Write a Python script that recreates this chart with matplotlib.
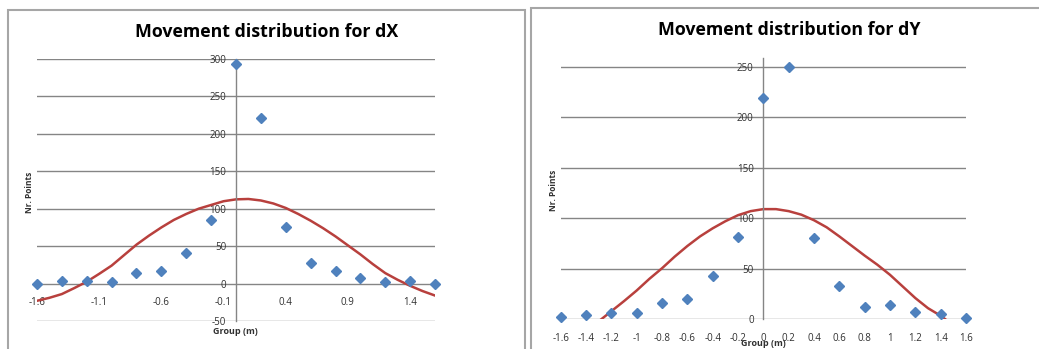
import matplotlib
matplotlib.use("Agg")
import matplotlib.pyplot as plt
from matplotlib.patches import Rectangle

plt.rcParams['font.family'] = ['Open Sans', 'DejaVu Sans']

# measured groups (m)
groups = [-1.6, -1.4, -1.2, -1.0, -0.8, -0.6, -0.4, -0.2, 0.0,
          0.2, 0.4, 0.6, 0.8, 1.0, 1.2, 1.4, 1.6]
dx_points = [0, 4, 4, 1.5, 13.5, 17, 41, 85, 293, 221, 75, 27, 17, 7, 2, 4, 0]
dy_points = [2, 4.5, 6, 6, 16, 20.5, 42.5, 81.5, 219, 250, 80.5, 32.5, 12, 14.5, 7, 5, 1]

# red fitted curves, every 0.1 m
curve_x = [-1.6, -1.5, -1.4, -1.3, -1.2, -1.1, -1.0, -0.9, -0.8, -0.7, -0.6,
           -0.5, -0.4, -0.3, -0.2, -0.1, 0.0, 0.1, 0.2, 0.3, 0.4, 0.5, 0.6,
           0.7, 0.8, 0.9, 1.0, 1.1, 1.2, 1.3, 1.4, 1.5, 1.6]
dx_curve = [-23, -19, -14, -6, 2.5, 13, 24, 38, 52, 64, 75, 85, 93, 100, 105,
            110, 112.5, 113, 111, 107, 101, 93, 84, 74, 63, 51, 39, 26, 14, 5,
            -3, -10, -16]
dy_curve = [-22, -17, -11, -2, 8, 18, 28.5, 40, 50.5, 62, 72.5, 82, 90, 97,
            103, 107, 109, 109, 107, 103.5, 98, 91, 82, 72.5, 63, 54, 44, 32.5,
            21, 11, 3.5, -6, -14]

dx_xticks = [-1.6, -1.1, -0.6, -0.1, 0.4, 0.9, 1.4]
dx_xlabels = ["-1.6", "-1.1", "-0.6", "-0.1", "0.4", "0.9", "1.4"]
dx_yticks = [-50, 0, 50, 100, 150, 200, 250, 300]

dy_xticks = [-1.6, -1.4, -1.2, -1.0, -0.8, -0.6, -0.4, -0.2, 0.0,
             0.2, 0.4, 0.6, 0.8, 1.0, 1.2, 1.4, 1.6]
dy_xlabels = ["-1.6", "-1.4", "-1.2", "-1", "-0.8", "-0.6", "-0.4", "-0.2", "0",
              "0.2", "0.4", "0.6", "0.8", "1", "1.2", "1.4", "1.6"]
dy_yticks = [0, 50, 100, 150, 200, 250]

W, H = 1039, 349
fig = plt.figure(figsize=(W / 100, H / 100), dpi=100)

# chart frames (Excel chart boxes)
fig.add_artist(Rectangle((8 / W, -0.2), (525 - 8) / W, 1.2 - 10 / H,
                         transform=fig.transFigure, fill=False,
                         edgecolor="#a6a6a6", lw=1.5))
fig.add_artist(Rectangle((531 / W, -0.2), 0.6, 1.2 - 8 / H,
                         transform=fig.transFigure, fill=False,
                         edgecolor="#a6a6a6", lw=1.5))

grid_c = "#858585"
txt_c = "#303030"


def style_axis(ax, yticks, xticks, xlabels):
    for s in ["top", "right"]:
        ax.spines[s].set_visible(False)
    ax.spines["left"].set_position(("data", 0))
    ax.spines["left"].set_color(grid_c)
    ax.spines["left"].set_linewidth(1)
    ax.spines["bottom"].set_position(("data", 0))
    ax.spines["bottom"].set_visible(False)
    ax.set_yticks(yticks)
    ax.set_yticklabels([str(v) for v in yticks])
    ax.set_xticks(xticks)
    ax.set_xticklabels(xlabels)
    ax.tick_params(axis="both", length=0, labelsize=7, colors=txt_c)
    ax.tick_params(axis="y", pad=7)
    ax.tick_params(axis="x", pad=10)
    for v in yticks:
        ax.axhline(v, color=grid_c, lw=1, zorder=0)
    ax.patch.set_alpha(0)


# left: dX
ax1 = fig.add_axes([37 / W, (H - 321) / H, 398 / W, 262 / H])
ax1.set_xlim(-1.6, 1.6)
ax1.set_ylim(-50, 300)
style_axis(ax1, dx_yticks, dx_xticks, dx_xlabels)
ax1.plot(curve_x, dx_curve, color="#b8403d", lw=1.8, zorder=2)
ax1.plot(groups, dx_points, "D", color="#4f81bd", ms=5.5, clip_on=False, zorder=3)

# right: dY
ax2 = fig.add_axes([560.7 / W, (H - 319.3) / H, 405.3 / W, 261.3 / H])
ax2.set_xlim(-1.6, 1.6)
ax2.set_ylim(0, 258.5)
style_axis(ax2, dy_yticks, dy_xticks, dy_xlabels)
ax2.plot(curve_x, dy_curve, color="#b8403d", lw=1.8, zorder=2)
ax2.plot(groups, dy_points, "D", color="#4f81bd", ms=5.5, clip_on=False, zorder=3)

# titles and axis titles
fig.text(266.5 / W, 1 - 32 / H, "Movement distribution for dX", ha="center",
         va="center", fontsize=12.8, fontweight="bold", color="black")
fig.text(789 / W, 1 - 30 / H, "Movement distribution for dY", ha="center",
         va="center", fontsize=12.8, fontweight="bold", color="black")
fig.text(30 / W, 1 - 192 / H, "Nr. Points", rotation=90, ha="center",
         va="center", fontsize=6, fontweight="bold", color=txt_c)
fig.text(553 / W, 1 - 190 / H, "Nr. Points", rotation=90, ha="center",
         va="center", fontsize=6, fontweight="bold", color=txt_c)
fig.text(235 / W, 1 - 331 / H, "Group (m)", ha="center", va="center",
         fontsize=6.5, fontweight="bold", color=txt_c)
fig.text(763 / W, 1 - 344 / H, "Group (m)", ha="center", va="center",
         fontsize=6.5, fontweight="bold", color=txt_c)

fig.savefig("out.png", dpi=100)
